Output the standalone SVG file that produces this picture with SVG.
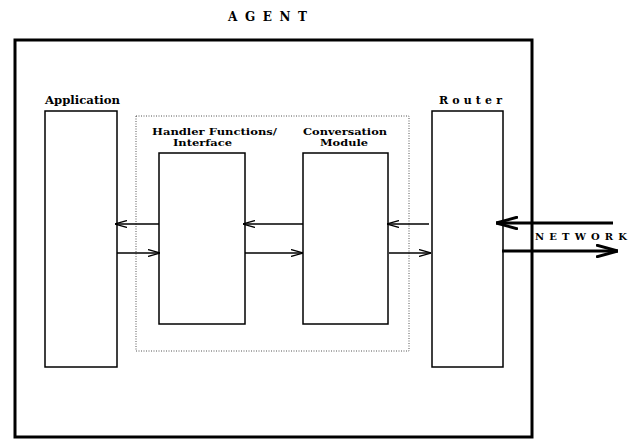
<svg xmlns="http://www.w3.org/2000/svg" width="641" height="439" viewBox="0 0 641 439">
<style>
text{font-family:"DejaVu Serif","Liberation Serif",serif;font-weight:bold;fill:#000}
.box{fill:none;stroke:#000;stroke-width:1.5}
.conn{stroke:#000;stroke-width:1.3;fill:none}
.net{stroke:#000;stroke-width:3;fill:none}
</style>
<defs>
<marker id="ah" viewBox="0 0 12 8" refX="12" refY="4" markerWidth="12" markerHeight="8" markerUnits="userSpaceOnUse" orient="auto">
<path d="M0,0.5 L12,4 L0,7.5" fill="none" stroke="#000" stroke-width="1.3"/>
</marker>
<marker id="ahn" viewBox="0 0 22 14" refX="22" refY="7" markerWidth="22" markerHeight="14" markerUnits="userSpaceOnUse" orient="auto">
<path d="M0,1 L22,7 L0,13" fill="none" stroke="#000" stroke-width="3"/>
</marker>
</defs>
<g id="title"><text x="228" y="21" font-size="12" textLength="79" lengthAdjust="spacing">AGENT</text></g>
<g id="agent"><rect x="15" y="40" width="517" height="397" fill="none" stroke="#000" stroke-width="3"/></g>
<g id="group"><rect x="136" y="116" width="273" height="235" fill="none" stroke="#555" stroke-width="1" stroke-dasharray="1,1.5"/></g>
<g id="application">
<rect class="box" x="45" y="111" width="72" height="256"/>
<text x="45" y="104" font-size="11" textLength="75" lengthAdjust="spacingAndGlyphs">Application</text>
</g>
<g id="handler">
<rect class="box" x="159" y="153" width="86" height="171"/>
<text x="152" y="135" font-size="10" textLength="125" lengthAdjust="spacingAndGlyphs">Handler Functions/</text>
<text x="173" y="146" font-size="10" textLength="59" lengthAdjust="spacingAndGlyphs">Interface</text>
</g>
<g id="conversation">
<rect class="box" x="303" y="153" width="85" height="171"/>
<text x="303" y="135" font-size="10" textLength="84" lengthAdjust="spacingAndGlyphs">Conversation</text>
<text x="320" y="146" font-size="10" textLength="48" lengthAdjust="spacingAndGlyphs">Module</text>
</g>
<g id="router">
<rect class="box" x="432" y="111" width="71" height="256"/>
<text x="439" y="104" font-size="11" textLength="63" lengthAdjust="spacing">Router</text>
</g>
<g id="network"><text x="535" y="240" font-size="10" textLength="92" lengthAdjust="spacing">NETWORK</text></g>
<g id="connectors">
<line class="conn" x1="159" y1="224" x2="115" y2="224" marker-end="url(#ah)"/>
<line class="conn" x1="117" y1="253" x2="160" y2="253" marker-end="url(#ah)"/>
<line class="conn" x1="303" y1="224" x2="243" y2="224" marker-end="url(#ah)"/>
<line class="conn" x1="245" y1="253" x2="303" y2="253" marker-end="url(#ah)"/>
<line class="conn" x1="429" y1="224" x2="387" y2="224" marker-end="url(#ah)"/>
<line class="conn" x1="389" y1="253" x2="431" y2="253" marker-end="url(#ah)"/>
<line class="net" x1="613" y1="223" x2="496" y2="223" marker-end="url(#ahn)"/>
<line class="net" x1="502" y1="251" x2="618" y2="251" marker-end="url(#ahn)"/>
</g>
</svg>
